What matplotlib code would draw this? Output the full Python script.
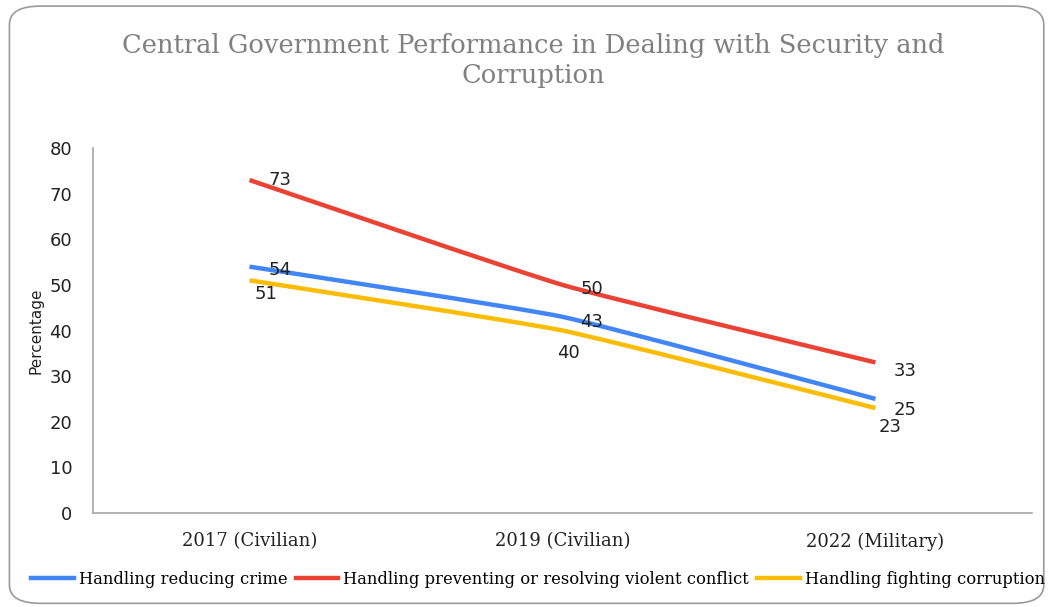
import matplotlib
matplotlib.use("Agg")
import matplotlib.pyplot as plt
from matplotlib.path import Path
from matplotlib.patches import PathPatch, FancyBboxPatch
from matplotlib.lines import Line2D

# survey results, percent saying government handles the issue well
periods = ["2017 (Civilian)", "2019 (Civilian)", "2022 (Military)"]
crime = [54, 43, 25]
conflict = [73, 50, 33]
corruption = [51, 40, 23]

series_names = ["Handling reducing crime",
                "Handling preventing or resolving violent conflict",
                "Handling fighting corruption"]
colors = ["#4285F4", "#EA4335", "#FBBC04"]


def smooth_path(xs, ys, tension=1 / 14):
    # bezier curve through the points, like a spreadsheet "smoothed line"
    pts = list(zip(xs, ys))
    verts = [pts[0]]
    codes = [Path.MOVETO]
    n = len(pts)
    for i in range(n - 1):
        p0 = pts[i - 1] if i > 0 else pts[i]
        p1 = pts[i]
        p2 = pts[i + 1]
        p3 = pts[i + 2] if i + 2 < n else pts[i + 1]
        c1 = (p1[0] + (p2[0] - p0[0]) * tension, p1[1] + (p2[1] - p0[1]) * tension)
        c2 = (p2[0] - (p3[0] - p1[0]) * tension, p2[1] - (p3[1] - p1[1]) * tension)
        verts += [c1, c2, p2]
        codes += [Path.CURVE4] * 3
    return Path(verts, codes)


fig = plt.figure(figsize=(10.49, 6.07), dpi=100)

# rounded chart border
frame = FancyBboxPatch((0.009, 0.006), 0.986, 0.984,
                       boxstyle="round,pad=0,rounding_size=0.03",
                       transform=fig.transFigure, facecolor="white",
                       edgecolor="#9a9a9a", linewidth=1.2, zorder=-5)
fig.patches.append(frame)

ax = fig.add_axes([0.0887, 0.155, 0.895, 0.601])
ax.set_facecolor("none")
ax.set_zorder(2)
x = list(range(len(periods)))

for vals, col in zip([crime, conflict, corruption], colors):
    ax.add_patch(PathPatch(smooth_path(x, vals), facecolor="none",
                           edgecolor=col, linewidth=3.2, capstyle="butt"))

# value labels, offsets in points from each data point
label_offsets = {
    "crime": [(14, -2.5), (13, -4), (13, -8)],
    "conflict": [(14, 0), (13, -3), (13, -6)],
    "corruption": [(3.6, -9.5), (-4, -16), (2, -14)],
}
for key, vals in zip(["crime", "conflict", "corruption"], [crime, conflict, corruption]):
    for xi, v, (dx, dy) in zip(x, vals, label_offsets[key]):
        ax.annotate(str(v), (xi, v), xytext=(dx, dy), textcoords="offset points",
                    fontsize=13, color="#222222", va="center", ha="left")

ax.set_xlim(-0.5, 2.5)
ax.set_ylim(0, 80)
ax.set_yticks(range(0, 81, 10))
ax.set_xticks(x)
ax.set_xticklabels(periods, family="DejaVu Serif", fontsize=13)
ax.tick_params(axis="y", length=0, labelsize=13, pad=15, labelcolor="#222222")
ax.tick_params(axis="x", length=0, pad=14, labelcolor="#222222")
for s in ["top", "right"]:
    ax.spines[s].set_visible(False)
for s in ["left", "bottom"]:
    ax.spines[s].set_color("#a6a6a6")
    ax.spines[s].set_linewidth(1.2)

ax.set_ylabel("Percentage", family="DejaVu Sans", fontsize=11, color="#222222",
              labelpad=4)

fig.text(0.508, 0.9, "Central Government Performance in Dealing with Security and\nCorruption",
         ha="center", va="center", family="DejaVu Serif", fontsize=18.5,
         color="#808080", linespacing=1.25)

handles = [Line2D([], [], color=c, linewidth=3.2) for c in colors]
fig.legend(handles, series_names, loc="center", bbox_to_anchor=(0.513, 0.045),
           ncol=3, frameon=False, handlelength=2.6, handletextpad=0.3,
           columnspacing=0.5, prop={"family": "DejaVu Serif", "size": 11.8})

fig.savefig("out.png", dpi=100)
